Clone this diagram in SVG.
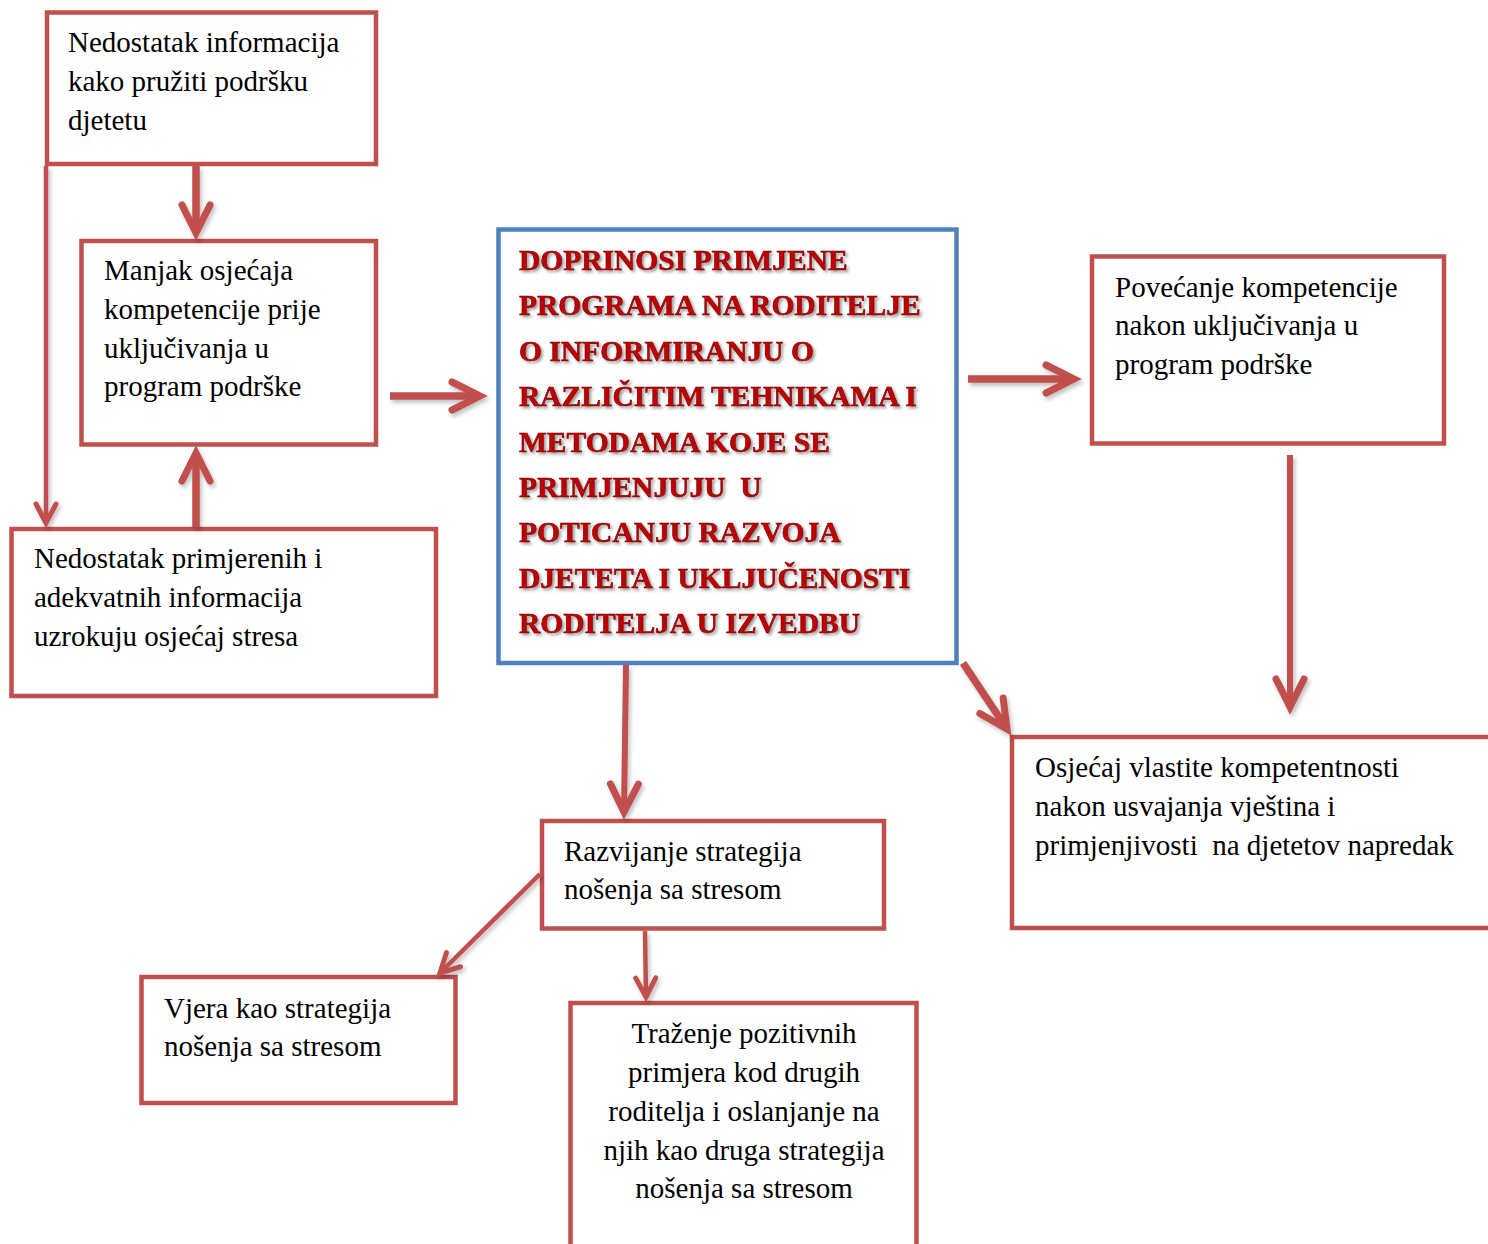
<svg xmlns="http://www.w3.org/2000/svg" width="1488" height="1244" viewBox="0 0 1488 1244">
<style>
.box{fill:#FFFFFF;stroke:#C0504D;stroke-width:4.5}
.cbox{fill:#FFFFFF;stroke:#4F81BD;stroke-width:4.5}
.t{font-family:"Liberation Serif","Times New Roman",serif;font-size:29px;fill:#000000}
.title{font-family:"Liberation Serif","Times New Roman",serif;font-size:29.5px;font-weight:bold;fill:#C00000;stroke:#7A0000;stroke-width:0.6}
.c{fill:none;stroke:#C0504D}
.thick{stroke-width:7.5}
.mid{stroke-width:6}
.thin{stroke-width:4.5}
</style>
<defs>
<filter id="sh" x="-20%" y="-20%" width="140%" height="140%">
<feDropShadow dx="2" dy="3" stdDeviation="2" flood-color="#000000" flood-opacity="0.25"/>
</filter>
<filter id="tsh" x="-5%" y="-5%" width="110%" height="120%">
<feDropShadow dx="2" dy="2" stdDeviation="1.5" flood-color="#404040" flood-opacity="0.55"/>
</filter>
<marker id="ah" markerUnits="userSpaceOnUse" viewBox="-40 -25 50 50" refX="0" refY="0" markerWidth="50" markerHeight="50" orient="auto" overflow="visible">
<path d="M-28,-14 L0,0 L-28,14" fill="none" stroke="#C0504D" stroke-width="7" stroke-linecap="round" stroke-linejoin="miter"/>
</marker>
<marker id="ahs" markerUnits="userSpaceOnUse" viewBox="-30 -15 40 30" refX="0" refY="0" markerWidth="40" markerHeight="30" orient="auto" overflow="visible">
<path d="M-19,-10 L0,0 L-19,10" fill="none" stroke="#C0504D" stroke-width="5" stroke-linecap="round" stroke-linejoin="miter"/>
</marker>
</defs>
<rect width="1488" height="1244" fill="#FFFFFF"/>

<g id="n1">
<rect class="box" x="47" y="12.5" width="329" height="151.5"/>
<text class="t" x="68" y="52">Nedostatak informacija</text>
<text class="t" x="68" y="91">kako pružiti podršku</text>
<text class="t" x="68" y="130">djetetu</text>
</g>

<g id="n2">
<rect class="box" x="81.5" y="241" width="294.5" height="203.5"/>
<text class="t" x="104" y="280">Manjak osjećaja</text>
<text class="t" x="104" y="319">kompetencije prije</text>
<text class="t" x="104" y="358">uključivanja u</text>
<text class="t" x="104" y="396">program podrške</text>
</g>

<g id="n3">
<rect class="box" x="11.5" y="529" width="424.5" height="167"/>
<text class="t" x="34" y="568">Nedostatak primjerenih i</text>
<text class="t" x="34" y="607">adekvatnih informacija</text>
<text class="t" x="34" y="646">uzrokuju osjećaj stresa</text>
</g>

<g id="center">
<rect class="cbox" x="498.5" y="229.5" width="458" height="433.5"/>
<g filter="url(#tsh)">
<text class="title" x="519" y="270">DOPRINOSI PRIMJENE</text>
<text class="title" x="519" y="315.4">PROGRAMA NA RODITELJE</text>
<text class="title" x="519" y="360.8">O INFORMIRANJU O</text>
<text class="title" x="519" y="406.2">RAZLIČITIM TEHNIKAMA I</text>
<text class="title" x="519" y="451.6">METODAMA KOJE SE</text>
<text class="title" x="519" y="497" xml:space="preserve">PRIMJENJUJU  U</text>
<text class="title" x="519" y="542.4">POTICANJU RAZVOJA</text>
<text class="title" x="519" y="587.8">DJETETA I UKLJUČENOSTI</text>
<text class="title" x="519" y="633.2">RODITELJA U IZVEDBU</text>
</g>
</g>

<g id="n4">
<rect class="box" x="1092" y="256.5" width="352" height="187"/>
<text class="t" x="1115" y="297">Povećanje kompetencije</text>
<text class="t" x="1115" y="335">nakon uključivanja u</text>
<text class="t" x="1115" y="374">program podrške</text>
</g>

<g id="n5">
<rect class="box" x="1012" y="737" width="500" height="191"/>
<text class="t" x="1035" y="777">Osjećaj vlastite kompetentnosti</text>
<text class="t" x="1035" y="816">nakon usvajanja vještina i</text>
<text class="t" x="1035" y="855" xml:space="preserve">primjenjivosti  na djetetov napredak</text>
</g>

<g id="n6">
<rect class="box" x="542" y="821" width="342" height="107.5"/>
<text class="t" x="564" y="861">Razvijanje strategija</text>
<text class="t" x="564" y="899">nošenja sa stresom</text>
</g>

<g id="n7">
<rect class="box" x="141.5" y="977" width="314" height="126"/>
<text class="t" x="164" y="1018">Vjera kao strategija</text>
<text class="t" x="164" y="1056">nošenja sa stresom</text>
</g>

<g id="n8">
<rect class="box" x="570.5" y="1003" width="346" height="270"/>
<g text-anchor="middle">
<text class="t" x="744" y="1043">Traženje pozitivnih</text>
<text class="t" x="744" y="1082">primjera kod drugih</text>
<text class="t" x="744" y="1121">roditelja i oslanjanje na</text>
<text class="t" x="744" y="1160">njih kao druga strategija</text>
<text class="t" x="744" y="1198">nošenja sa stresom</text>
</g>
</g>

<g id="connectors" filter="url(#sh)">
<path class="c thick" d="M196,166 L196,233" marker-end="url(#ah)"/>
<path class="c thin" d="M46,166 L46,523" marker-end="url(#ahs)"/>
<path class="c thick" d="M196,527 L196,453" marker-end="url(#ah)"/>
<path class="c thick" d="M390,396 L480,396" marker-end="url(#ah)"/>
<path class="c thick" d="M968,379 L1074,379" marker-end="url(#ah)"/>
<path class="c mid" d="M1290,455 L1290,707" marker-end="url(#ah)"/>
<path class="c thick" d="M963,663 L1007,729" marker-end="url(#ah)"/>
<path class="c mid" d="M626,665 L624,812" marker-end="url(#ah)"/>
<path class="c thin" d="M540,874 L440,973" marker-end="url(#ahs)"/>
<path class="c thin" d="M645,931 L646,997" marker-end="url(#ahs)"/>
</g>
</svg>
